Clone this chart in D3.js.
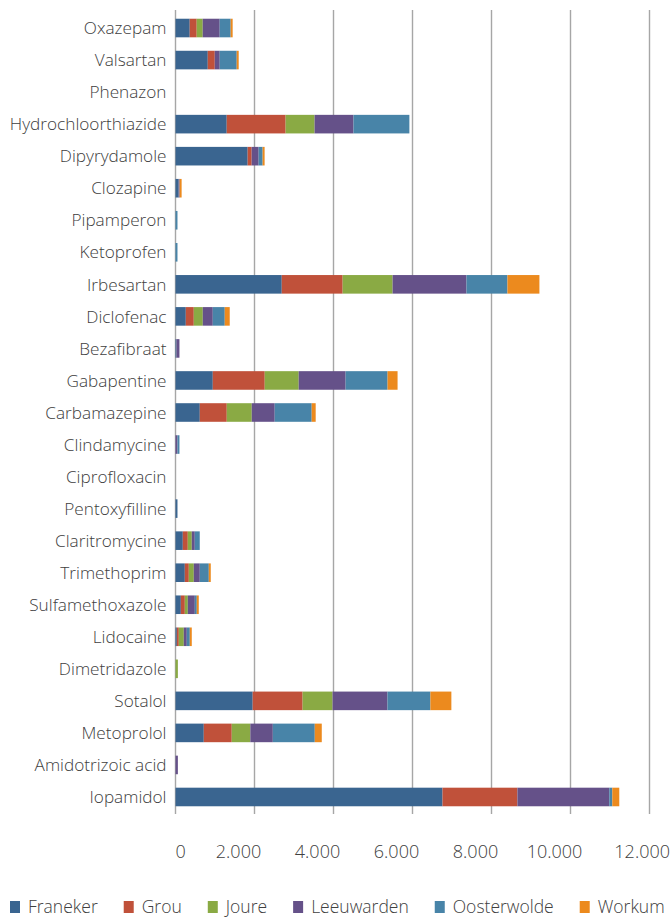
<!DOCTYPE html>
<html>
<head>
<meta charset="utf-8">
<script src="https://cdn.jsdelivr.net/npm/d3@7"></script>
<style>
  html, body { margin: 0; padding: 0; background: #fff; }
  svg { display: block; }
  text { font-family: "Open Sans", "Noto Sans", sans-serif; fill: #404040; font-weight: 300; }
</style>
</head>
<body>
<svg id="chart" width="672" height="918"></svg>
<script>
// ---- data ----
const categories = [
  "Oxazepam", "Valsartan", "Phenazon", "Hydrochloorthiazide", "Dipyrydamole",
  "Clozapine", "Pipamperon", "Ketoprofen", "Irbesartan", "Diclofenac",
  "Bezafibraat", "Gabapentine", "Carbamazepine", "Clindamycine", "Ciprofloxacin",
  "Pentoxyfilline", "Claritromycine", "Trimethoprim", "Sulfamethoxazole", "Lidocaine",
  "Dimetridazole", "Sotalol", "Metoprolol", "Amidotrizoic acid", "Iopamidol"
];
const seriesNames = ["Franeker", "Grou", "Joure", "Leeuwarden", "Oosterwolde", "Workum"];
const franeker    = [360, 817, 0, 1297, 1827, 80, 0, 0, 2690, 261, 25, 944, 615, 0, 0, 50, 185, 236, 135, 34, 0, 1954, 716, 0, 6760];
const grou        = [177, 177, 0, 1491, 101, 0, 0, 0, 1542, 202, 0, 1315, 683, 0, 0, 0, 126, 101, 101, 50, 0, 1264, 708, 0, 1896];
const joure       = [152, 0, 0, 733, 0, 0, 0, 0, 1264, 228, 0, 860, 632, 0, 0, 0, 101, 126, 76, 126, 60, 758, 470, 0, 0];
const leeuwarden  = [430, 126, 0, 985, 177, 25, 0, 0, 1871, 253, 75, 1188, 582, 50, 0, 0, 76, 152, 177, 76, 0, 1390, 570, 60, 2326];
const oosterwolde = [278, 430, 0, 1415, 101, 0, 50, 50, 1037, 303, 0, 1062, 936, 50, 0, 0, 126, 228, 50, 76, 0, 1087, 1062, 0, 76];
const workum      = [50, 50, 0, 0, 50, 50, 0, 0, 809, 126, 0, 253, 101, 0, 0, 0, 0, 50, 50, 50, 0, 531, 177, 0, 177];
const seriesColors = ["#3A6590", "#C0513A", "#8AAA44", "#655189", "#4884A8", "#EC8A1E"];
const xTicks = [0, 2000, 4000, 6000, 8000, 10000, 12000];
const xMax = 12000;

// ---- build table ----
const seriesValues = [franeker, grou, joure, leeuwarden, oosterwolde, workum];
const rows = categories.map((c, i) => {
  const r = { category: c };
  seriesNames.forEach((s, j) => { r[s] = seriesValues[j][i]; });
  return r;
});
const stacked = d3.stack().keys(seriesNames)(rows);

// ---- layout ----
const svg = d3.select("#chart");
const plotLeft = 175.5, plotRight = 649.5, plotTop = 12, plotBottom = 813;

const x = d3.scaleLinear().domain([0, xMax]).range([plotLeft, plotRight]);
const y = d3.scaleBand().domain(categories).range([plotTop, plotBottom])
  .paddingInner(0.42).paddingOuter(0.21);
const color = d3.scaleOrdinal().domain(seriesNames).range(seriesColors);

// gridlines (including zero line)
svg.append("g").selectAll("line").data(xTicks).join("line")
  .attr("x1", d => x(d)).attr("x2", d => x(d))
  .attr("y1", plotTop - 2).attr("y2", plotBottom + 1)
  .attr("stroke", "#a6a6a6").attr("stroke-width", 1.4);

// bars
svg.append("g").selectAll("g").data(stacked).join("g")
  .attr("fill", d => color(d.key))
  .selectAll("rect").data(d => d).join("rect")
  .attr("x", d => x(d[0]))
  .attr("y", d => y(d.data.category))
  .attr("width", d => Math.max(0, x(d[1]) - x(d[0])))
  .attr("height", y.bandwidth());

// category labels
svg.append("g").selectAll("text").data(categories).join("text")
  .attr("x", plotLeft - 9)
  .attr("y", d => y(d) + y.bandwidth() / 2)
  .attr("dy", "0.36em")
  .attr("text-anchor", "end")
  .style("font-size", "17.2px")
  .text(d => d);

// x tick labels
const fmt = v => d3.format(",")(v).replace(/,/g, ".");
svg.append("g").selectAll("text").data(xTicks).join("text")
  .attr("x", (d, i) => i === 0 ? x(d) : (i === xTicks.length - 1 ? 670 : x(d) - 16))
  .attr("y", 858)
  .attr("text-anchor", (d, i) => i === 0 ? "start" : (i === xTicks.length - 1 ? "end" : "middle"))
  .style("font-size", "18px")
  .text(fmt);

// legend
const legend = svg.append("g");
let lx = 10;
seriesNames.forEach((s, i) => {
  const g = legend.append("g").attr("transform", `translate(${lx},0)`);
  g.append("rect").attr("x", 0).attr("y", 901).attr("width", 10).attr("height", 12)
    .attr("fill", seriesColors[i]);
  const t = g.append("text").attr("x", 18).attr("y", 913)
    .style("font-size", "17.5px").text(s);
  lx += 18 + t.node().getComputedTextLength() + 26;
});
</script>
</body>
</html>
